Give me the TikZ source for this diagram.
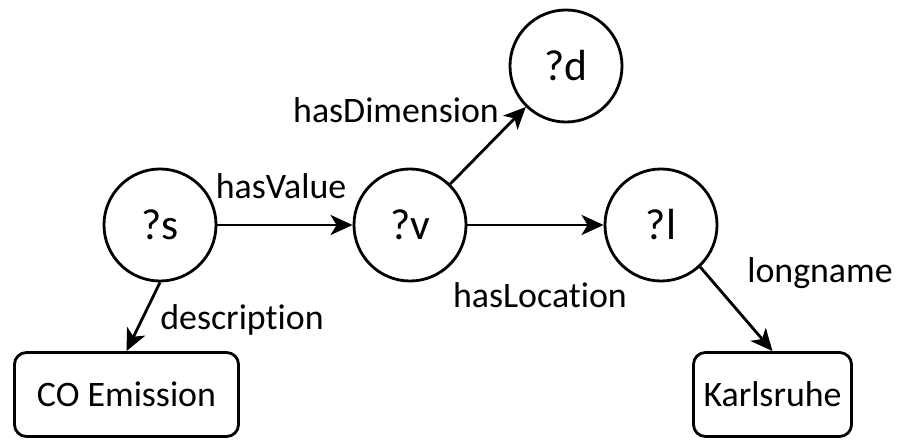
\documentclass[tikz,border=0pt]{standalone}
\usepackage{fontspec}
\setmainfont{Carlito}[RawFeature=-liga]
\usetikzlibrary{arrows.meta}
\begin{document}
\begin{tikzpicture}[x=0.025cm,y=0.025cm,
    var/.style={draw, circle, line width=2pt, minimum size=2.8cm, inner sep=0pt, font=\fontsize{31}{31}\selectfont},
    lit/.style={draw, rounded corners=0.3cm, line width=2pt, minimum height=2.1cm, inner sep=0pt, font=\fontsize{25.5}{25.5}\selectfont},
    rel/.style={inner sep=0pt, font=\fontsize{25.5}{25.5}\selectfont},
    link/.style={line width=2pt, -{Stealth[length=0.55cm, width=0.5cm, inset=0.15cm]}}]
    \useasboundingbox (0,0) rectangle (898,440);

    % Variables
    \node[var] (s) at (160,215) {?s};
    \node[var] (v) at (410,215) {?v};
    \node[var] (d) at (566,374) {?d};
    \node[var] (l) at (661,215) {?l};

    % Literals
    \node[lit, minimum width=5.6cm] (co) at (126.5,45.5) {CO Emission};
    \node[lit, minimum width=3.95cm] (ka) at (772.5,45.5) {Karlsruhe};

    % Properties
    \draw[link] (s) -- (v);
    \draw[link] (v) -- (d);
    \draw[link] (v) -- (l);
    \draw[link] (s.south) -- (co.north);
    \draw[link] (l.-47) -- (ka.north);

    % Property labels
    \node[rel] (hv) at (281,254) {hasValue};
    \node[rel] (hd) at (396,330) {hasDimension};
    \node[rel] (hl) at (540,145) {hasLocation};
    \node[rel] (de) at (242,120) {description};
    \node[rel] (ln) at (820,167) {longname};
\end{tikzpicture}
\end{document}
